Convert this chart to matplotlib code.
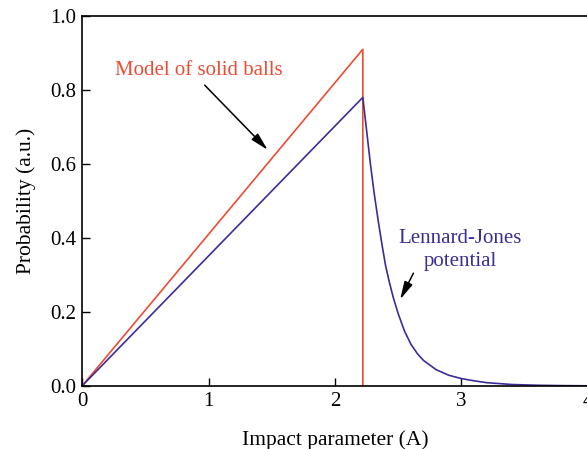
import matplotlib
matplotlib.use("Agg")
import matplotlib.pyplot as plt

plt.rcParams['font.family'] = ['Liberation Serif', 'DejaVu Serif']

# solid balls model: linear rise then sharp cut
solid_x = [0.0, 2.22, 2.22]
solid_y = [0.0, 0.91, 0.0]

# Lennard-Jones potential curve
lj_x = [0.0, 2.22, 2.25, 2.28, 2.31, 2.34, 2.37, 2.40, 2.43, 2.46, 2.50, 2.55,
        2.60, 2.65, 2.70, 2.80, 2.90, 3.00, 3.10, 3.20, 3.40, 3.60, 3.80, 4.00]
lj_y = [0.0, 0.78, 0.69, 0.60, 0.52, 0.45, 0.385, 0.325, 0.28, 0.24, 0.195, 0.148,
        0.113, 0.088, 0.069, 0.044, 0.029, 0.020, 0.014, 0.009, 0.004, 0.002,
        0.001, 0.0005]

red = '#ef4b33'
blue = '#3a2e96'

fig = plt.figure(figsize=(5.87, 4.49), dpi=100)
ax = fig.add_axes([0.1397, 0.1403, 0.862, 0.8241])

ax.plot(solid_x, solid_y, color=red, lw=1.2)
ax.plot(lj_x, lj_y, color=blue, lw=1.2)

ax.set_xlim(0, 4)
ax.set_ylim(0, 1.0)
ax.set_xticks([0, 1, 2, 3, 4])
ax.set_yticks([0.0, 0.2, 0.4, 0.6, 0.8, 1.0])
ax.set_yticklabels(['0.0', '0.2', '0.4', '0.6', '0.8', '1.0'])
ax.tick_params(direction='in', length=6, width=1, labelsize=15, pad=4)
for s in ax.spines.values():
    s.set_linewidth(1.2)
ax.spines['right'].set_visible(False)

ax.set_xlabel('Impact parameter (A)', fontsize=15.5, labelpad=14)
ax.set_ylabel('Probability (a.u.)', fontsize=15.5, labelpad=10)

arrow = dict(arrowstyle='-|>,head_length=0.9,head_width=0.22', color='black',
             lw=1.1, shrinkA=0, shrinkB=0, mutation_scale=12)

ax.text(0.927, 0.854, 'Model of solid balls', color=red, fontsize=15,
        ha='center', va='center')
ax.annotate('', xy=(1.468, 0.638), xytext=(0.97, 0.813), arrowprops=arrow)

ax.text(2.99, 0.368, 'Lennard-Jones\npotential', color=blue, fontsize=15,
        ha='center', va='center', linespacing=1.25)
ax.annotate('', xy=(2.515, 0.234), xytext=(2.62, 0.305), arrowprops=arrow)

fig.savefig('out.png', dpi=100)
